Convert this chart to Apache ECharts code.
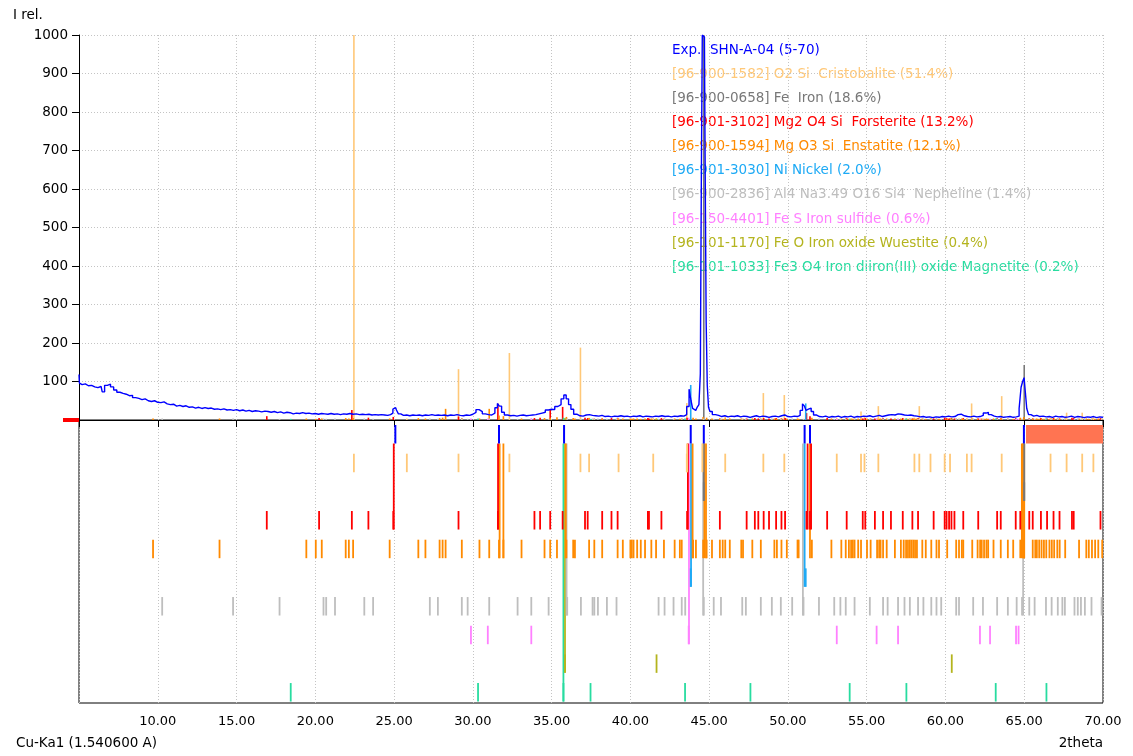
<!DOCTYPE html>
<html><head><meta charset="utf-8">
<script src="https://cdn.jsdelivr.net/npm/echarts@6/dist/echarts.min.js"></script>
<style>html,body{margin:0;padding:0;background:#fff}#c{width:1133px;height:756px}</style>
</head><body><div id="c"></div>
<script>
// ---------- DATA ----------
// Experimental pattern [2theta, I rel.]
const expPattern = [
[5.0,118],[5.05,96],[5.2,92],[5.4,94],[5.6,89],[5.8,90],[6.0,86],[6.2,84],[6.4,87],[6.55,73],[6.7,90],[6.9,93],[7.1,86],[7.3,78],[7.5,72],[7.7,69],[7.9,67],[8.1,63],[8.3,64],[8.5,58],[8.7,56],[8.9,53],[9.1,55],[9.3,50],[9.5,48],[9.7,50],[9.9,46],
[10.1,45],[10.3,47],[10.5,42],[10.7,40],[10.9,41],[11.1,36],[11.3,38],[11.5,35],[11.7,37],[11.9,33],[12.1,34],[12.3,31],[12.5,33],[12.7,30],[12.9,32],[13.1,30],[13.3,31],[13.5,28],[13.7,29],[13.9,27],[14.1,29],[14.3,26],[14.5,27],[14.7,25],[14.9,27],
[15.1,24],[15.3,26],[15.5,23],[15.7,25],[15.9,22],[16.1,24],[16.3,23],[16.5,21],[16.7,23],[16.9,22],[17.1,20],[17.3,22],[17.5,19],[17.7,21],[17.9,18],[18.1,20],[18.3,19],[18.5,16],[18.7,18],[18.9,17],[19.1,19],[19.3,17],[19.5,18],[19.7,16],[19.9,17],
[20.1,15],[20.3,17],[20.5,16],[20.7,15],[20.9,17],[21.1,15],[21.3,16],[21.5,14],[21.7,16],[21.9,15],[22.1,17],[22.3,15],[22.5,16],[22.7,14],[22.9,15],[23.1,14],[23.3,15],[23.5,13],[23.7,14],[23.9,13],[24.1,14],[24.3,13],[24.5,12],[24.7,14],[24.85,18],
[25.0,28],[25.1,32],[25.2,26],[25.35,16],[25.5,12],[25.7,13],[25.9,11],[26.1,13],[26.3,12],[26.5,13],[26.7,11],[26.9,13],[27.1,12],[27.3,14],[27.5,12],[27.7,13],[27.9,12],[28.1,13],[28.3,11],[28.5,13],[28.7,12],[28.9,14],[29.1,12],[29.3,11],[29.5,13],[29.7,12],[29.9,15],
[30.1,20],[30.3,27],[30.5,22],[30.7,16],[30.9,14],[31.1,13],[31.3,18],[31.5,32],[31.62,43],[31.75,36],[31.9,20],[32.1,13],[32.3,11],[32.5,12],[32.7,10],[32.9,12],[33.1,13],[33.3,11],[33.5,12],[33.7,13],[33.9,14],[34.1,16],[34.3,18],[34.5,20],[34.7,26],[34.9,28],
[35.1,27],[35.3,35],[35.5,40],[35.7,55],[35.85,65],[36.0,55],[36.15,40],[36.3,28],[36.5,15],[36.7,11],[36.9,10],[37.1,13],[37.3,14],[37.5,12],[37.7,11],[37.9,10],[38.1,12],[38.3,9],[38.5,10],[38.7,8],[38.9,10],[39.1,9],[39.3,11],[39.5,9],[39.7,10],[39.9,8],
[40.1,10],[40.3,9],[40.5,11],[40.7,8],[40.9,10],[41.1,9],[41.3,8],[41.5,10],[41.7,9],[41.9,11],[42.1,9],[42.3,10],[42.5,8],[42.7,10],[42.9,9],[43.1,11],[43.3,10],[43.5,14],[43.65,35],[43.8,80],[43.9,50],[44.0,30],[44.15,25],[44.3,32],[44.4,40],
[44.48,120],[44.53,630],[44.6,1000],[44.7,995],[44.78,700],[44.84,255],[44.92,90],[45.0,33],[45.1,22],[45.3,14],[45.5,12],[45.7,9],[45.9,11],[46.1,8],[46.3,10],[46.5,9],[46.7,11],[46.9,8],[47.1,10],[47.3,9],[47.5,7],[47.7,9],[47.9,11],[48.1,8],[48.3,10],[48.5,9],[48.7,7],[48.9,9],
[49.1,10],[49.3,8],[49.5,11],[49.7,13],[49.9,9],[50.1,8],[50.3,10],[50.5,9],[50.7,12],[50.85,25],[51.0,42],[51.1,36],[51.2,25],[51.3,28],[51.4,31],[51.55,22],[51.7,13],[51.9,9],[52.1,8],[52.3,10],[52.5,7],[52.7,9],[52.9,8],[53.1,10],[53.3,7],[53.5,9],[53.7,8],[53.9,10],
[54.1,7],[54.3,9],[54.5,8],[54.7,10],[54.9,9],[55.1,11],[55.3,8],[55.5,10],[55.7,12],[55.9,9],[56.1,11],[56.3,13],[56.5,14],[56.7,13],[56.9,16],[57.1,15],[57.3,13],[57.5,12],[57.7,13],[57.9,11],[58.1,10],[58.3,8],[58.5,9],[58.7,7],[58.9,8],[59.1,6],[59.3,8],[59.5,7],[59.7,9],[59.9,8],
[60.1,10],[60.3,8],[60.5,9],[60.7,14],[60.9,15],[61.1,11],[61.3,9],[61.5,8],[61.7,10],[61.9,8],[62.1,9],[62.3,12],[62.5,18],[62.65,20],[62.8,14],[63.0,10],[63.2,8],[63.4,9],[63.6,7],[63.8,8],[64.0,9],[64.2,7],[64.4,8],[64.6,10],[64.75,30],[64.85,85],[64.95,100],
[65.03,110],[65.12,70],[65.2,30],[65.35,14],[65.5,10],[65.7,12],[65.9,9],[66.1,10],[66.3,8],[66.5,9],[66.7,7],[66.9,10],[67.1,8],[67.3,9],[67.5,7],[67.7,8],[67.9,10],[68.1,7],[68.3,9],[68.5,8],[68.7,6],[68.9,8],[69.1,7],[69.3,9],[69.5,6],[69.7,8],[69.9,7],[70.0,8]
];
// Experimental peak markers (row 0 of the lower panel)
const expPeaks = [25.08, 31.66, 35.79, 43.83, 44.66, 51.06, 51.40, 64.98];
// Unmatched range marker in the lower panel
const unmatchedRange = [65.05, 70];

// Reference patterns [2theta, I rel.]
const cristobalite = [[22.45,1000],[25.81,4],[29.09,132],[32.32,174],[36.83,188],[37.38,6],[39.25,5],[41.45,5],[43.58,44],[46.02,8],[48.44,70],[49.77,65],[53.10,6],[54.64,22],[54.86,8],[55.74,36],[58.03,6],[58.34,36],[59.05,5],[59.95,5],[60.29,6],[61.36,5],[61.66,43],[63.57,62],[66.67,6],[67.69,19],[68.68,19],[69.39,7]];
const iron = [[44.66,1000],[65.00,143]];
const forsterite = [[16.92,10],[20.24,5],[22.32,26],[23.37,6],[24.95,8],[29.09,9],[31.59,42],[33.91,5],[34.27,6],[34.91,26],[35.70,34],[37.12,6],[37.29,5],[38.21,4],[38.80,5],[39.19,4],[41.11,5],[41.18,4],[41.97,5],[43.60,6],[45.68,4],[47.38,4],[47.90,5],[48.12,4],[48.46,5],[48.80,4],[49.25,5],[49.59,4],[49.82,5],[51.18,18],[51.40,10],[52.49,5],[53.73,5],[54.75,4],[54.91,5],[55.52,4],[56.04,5],[56.54,4],[57.29,5],[57.90,4],[58.26,5],[59.25,4],[59.95,6],[60.07,5],[60.23,4],[60.38,5],[60.57,4],[61.13,5],[62.08,4],[63.28,5],[63.51,4],[64.46,5],[64.75,4],[65.32,5],[65.54,4],[66.06,5],[66.45,4],[66.86,5],[67.24,4],[68.03,6],[68.14,5],[69.84,5]];
const enstatite = [[9.70,4],[13.92,4],[19.43,4],[20.03,3],[20.41,4],[21.93,5],[22.13,4],[22.40,5],[24.72,4],[26.54,5],[26.99,4],[27.89,5],[28.08,6],[28.27,29],[29.30,5],[30.42,4],[31.04,29],[31.66,12],[31.94,10],[33.09,4],[34.55,5],[34.91,6],[35.34,7],[35.94,8],[36.37,5],[36.48,4],[37.38,5],[37.71,4],[38.21,4],[39.19,4],[39.52,4],[40.00,4],[40.09,3],[40.20,4],[40.43,4],[40.66,3],[40.93,4],[41.33,4],[41.63,3],[42.13,4],[42.81,4],[43.14,3],[43.26,4],[43.98,6],[44.16,4],[44.62,8],[44.84,6],[45.18,4],[45.68,4],[45.86,3],[46.02,4],[46.31,4],[47.04,4],[47.15,3],[47.74,4],[48.28,4],[49.14,4],[49.30,3],[49.59,4],[49.93,4],[50.61,4],[50.68,3],[51.52,6],[52.76,4],[53.39,4],[53.67,4],[53.87,3],[54.01,4],[54.12,3],[54.23,4],[54.46,4],[54.64,3],[55.02,4],[55.25,4],[55.66,4],[55.79,3],[55.88,4],[56.04,3],[56.27,4],[56.79,4],[57.17,4],[57.35,3],[57.50,4],[57.62,3],[57.74,4],[57.85,3],[57.96,4],[58.07,3],[58.19,4],[58.53,4],[58.75,3],[59.10,4],[59.43,4],[59.59,3],[60.11,4],[60.68,4],[60.86,3],[61.04,4],[61.13,3],[61.70,4],[62.04,4],[62.20,3],[62.30,4],[62.45,3],[62.60,4],[62.71,3],[63.05,4],[63.51,4],[63.96,4],[64.30,3],[64.75,6],[64.98,8],[65.54,4],[65.70,3],[65.80,4],[65.95,3],[66.10,4],[66.25,3],[66.40,4],[66.60,3],[66.75,4],[66.90,3],[67.10,4],[67.25,3],[67.60,4],[68.48,4],[68.94,4],[69.10,3],[69.30,4],[69.50,3],[69.70,4],[69.95,3]];
const nickel = [[43.83,91],[51.13,43]];
const nepheline = [[10.28,4],[14.78,4],[17.73,3],[20.52,4],[20.69,3],[21.25,4],[23.11,4],[23.67,3],[27.27,4],[27.78,3],[29.30,4],[29.67,3],[31.04,4],[32.84,3],[33.71,4],[34.81,3],[35.99,4],[36.86,3],[37.60,4],[37.71,3],[37.94,4],[38.51,3],[39.12,4],[41.79,3],[42.17,4],[42.74,3],[43.26,4],[43.48,3],[44.66,4],[45.29,3],[45.75,4],[47.10,3],[47.33,4],[48.28,3],[48.98,4],[49.55,3],[50.27,4],[50.99,3],[51.97,4],[52.94,3],[53.33,4],[53.67,3],[54.23,4],[55.20,3],[56.04,4],[56.33,3],[56.99,4],[57.40,3],[57.74,4],[58.26,3],[58.60,4],[59.10,3],[59.43,4],[59.73,3],[60.68,4],[60.86,3],[61.76,4],[62.38,3],[63.28,4],[63.96,3],[64.52,4],[64.86,3],[65.32,4],[65.66,3],[66.38,4],[66.74,3],[67.13,4],[67.42,3],[67.58,4],[68.19,3],[68.40,4],[68.60,3],[68.85,4],[69.27,3],[69.91,4]];
const ironSulfide = [[29.88,4],[30.95,4],[33.71,4],[43.70,6],[53.10,3],[55.63,3],[56.99,3],[62.19,3],[62.83,3],[64.48,3],[64.64,3]];
const wuestite = [[35.85,5],[41.66,4],[60.40,4]];
const magnetite = [[18.44,3],[30.33,4],[35.75,6],[37.47,3],[43.47,4],[47.62,3],[53.92,3],[57.52,4],[63.19,4],[66.41,3]];

// Matched-peak links: [2theta, phase row]
const matchLinks = [
[35.75,9],[35.85,8],[43.72,7],
[35.95,6],[44.62,6],[50.95,6],[64.93,6],
[43.85,5],[51.06,5],
[31.70,4],[31.94,4],[35.90,4],[43.95,4],[44.70,4],[44.80,4],[51.40,4],[64.85,4],[64.92,4],[65.00,4],
[24.98,3],[31.60,3],[43.65,3],[51.25,3],[51.47,3],
[44.66,2],[65.00,2],
[43.60,1],[44.57,1]
];

const phaseNames = ['Exp.  SHN-A-04 (5-70)',
'[96-900-1582] O2 Si  Cristobalite (51.4%)',
'[96-900-0658] Fe  Iron (18.6%)',
'[96-901-3102] Mg2 O4 Si  Forsterite (13.2%)',
'[96-900-1594] Mg O3 Si  Enstatite (12.1%)',
'[96-901-3030] Ni Nickel (2.0%)',
'[96-900-2836] Al4 Na3.49 O16 Si4  Nepheline (1.4%)',
'[96-150-4401] Fe S Iron sulfide (0.6%)',
'[96-101-1170] Fe O Iron oxide Wuestite (0.4%)',
'[96-101-1033] Fe3 O4 Iron diiron(III) oxide Magnetite (0.2%)'];
const phaseColors = ['#0000FF','#FFC878','#787878','#FF0000','#FF8A00','#1EAAF5','#BEBEBE','#FF80FF','#B4B41E','#28DCA0'];
const phaseData = [null, cristobalite, iron, forsterite, enstatite, nickel, nepheline, ironSulfide, wuestite, magnetite];

// ---------- CHART ----------
const FONT = '"DejaVu Sans", Verdana, sans-serif';
const ROW_TOP = 0.175, ROW_BOT = 0.82, ROWS_MAX = 283/28.67;
const gridDash = [1,2];

function stickRender(color, w) {
  return function (params, api) {
    const x = api.value(0), a = api.value(1), b = api.value(2);
    const p0 = api.coord([x, a]), p1 = api.coord([x, b]);
    return {type:'rect', shape:{x:p0[0]-w/2, y:Math.min(p0[1],p1[1]), width:w, height:Math.abs(p1[1]-p0[1])},
      style:{fill:color}};
  };
}

const series = [];
// Upper panel sticks
for (let i = 1; i < phaseData.length; i++) {
  series.push({type:'custom', xAxisIndex:0, yAxisIndex:0, z:2, clip:true,
    renderItem: stickRender(phaseColors[i], 1.6),
    data: phaseData[i].map(d => [d[0], 0, d[1]])});
}
// Experimental line
series.push({type:'line', xAxisIndex:0, yAxisIndex:0, z:5, showSymbol:false, symbol:'none', step:'middle',
  lineStyle:{color:'#0000FF', width:1.4}, data: expPattern, animation:false});
// zero marker
series.push({type:'custom', xAxisIndex:0, yAxisIndex:0, z:6, clip:false,
  renderItem:function(params, api){const p = api.coord([api.value(0), api.value(1)]);
    return {type:'rect', shape:{x:p[0]-16, y:p[1]-2, width:16, height:4}, style:{fill:'#FF0000'}};},
  data:[[5,0]]});

// Lower panel: links (longest first)
const links = matchLinks.slice().sort((a,b)=>b[1]-a[1]);
links.forEach(l => {
  series.push({type:'custom', xAxisIndex:1, yAxisIndex:1, z:3,
    renderItem: stickRender(phaseColors[l[1]], 1.8),
    data: [[l[0], ROW_BOT, l[1] + ROW_BOT]]});
});
// Lower panel rows
for (let i = 1; i < phaseData.length; i++) {
  series.push({type:'custom', xAxisIndex:1, yAxisIndex:1, z:4,
    renderItem: stickRender(phaseColors[i], 1.8),
    data: phaseData[i].map(d => [d[0], i + ROW_TOP, i + ROW_BOT])});
}
series.push({type:'custom', xAxisIndex:1, yAxisIndex:1, z:4,
  renderItem: stickRender('#0000FF', 2),
  data: expPeaks.map(t => [t, ROW_TOP, ROW_BOT])});
series.push({type:'custom', xAxisIndex:1, yAxisIndex:1, z:4,
  renderItem:function(params, api){
    const p0 = api.coord([api.value(0), ROW_TOP]), p1 = api.coord([api.value(1), ROW_BOT]);
    return {type:'rect', shape:{x:p0[0]+1, y:p0[1], width:p1[0]-p0[0]-1, height:p1[1]-p0[1]}, style:{fill:'#FF7452'}};},
  data:[unmatchedRange]});

const legendGraphics = phaseNames.map((n, i) => ({
  type:'text', left:672, top: 43 + i*24.15, z:-1, silent:true,
  style:{text:n, fill:phaseColors[i], font:'13.5px '+FONT}
}));

const option = {
  animation:false,
  backgroundColor:'#ffffff',
  grid:[{left:79, top:35, width:1024, height:385},
        {left:79, top:420, width:1024, height:283, show:true, borderColor:'#000', borderWidth:1, backgroundColor:'transparent'}],
  xAxis:[
    {gridIndex:0, type:'value', min:5, max:70, interval:5,
     axisLine:{show:true, onZero:false, lineStyle:{color:'#000', width:1}}, axisTick:{show:false}, axisLabel:{show:false},
     splitLine:{show:true, lineStyle:{color:'#C4C4C4', type:gridDash}}},
    {gridIndex:1, type:'value', min:5, max:70, interval:5,
     axisLine:{show:true, lineStyle:{color:'#000', width:1}},
     axisTick:{show:true, length:7, lineStyle:{color:'#000'}},
     axisLabel:{show:true, margin:12, color:'#000', fontSize:13, fontFamily:FONT,
       formatter:v => v === 5 ? '' : v.toFixed(2)},
     splitLine:{show:true, lineStyle:{color:'#C4C4C4', type:gridDash}}},
    {gridIndex:0, type:'value', position:'top', min:5, max:70,
     axisLine:{show:true, lineStyle:{color:'#000', width:1}}, axisTick:{show:false}, axisLabel:{show:false}, splitLine:{show:false}}
  ],
  yAxis:[
    {gridIndex:0, type:'value', min:0, max:1000, interval:100,
     axisLine:{show:true, lineStyle:{color:'#000', width:1}},
     axisTick:{show:true, length:7, lineStyle:{color:'#000'}},
     axisLabel:{show:true, margin:11, color:'#000', fontSize:13.5, fontFamily:FONT,
       formatter:v => v === 0 ? '' : String(v)},
     splitLine:{show:true, lineStyle:{color:'#C4C4C4', type:gridDash}}},
    {gridIndex:1, type:'value', min:0, max:ROWS_MAX, inverse:true, show:false, splitLine:{show:false}}
  ],
  graphic:[
    {type:'text', left:13, top:8, silent:true, style:{text:'I rel.', fill:'#000', font:'13.5px '+FONT}},
    {type:'text', left:16, top:736, silent:true, style:{text:'Cu-Ka1 (1.540600 A)', fill:'#000', font:'13.5px '+FONT}},
    {type:'text', right:30, top:736, silent:true, style:{text:'2theta', fill:'#000', font:'13.5px '+FONT}}
  ].concat(legendGraphics),
  series: series
};
const chart = echarts.init(document.getElementById('c'), null, {renderer:'canvas'});
chart.setOption(option);
</script>
</body></html>
